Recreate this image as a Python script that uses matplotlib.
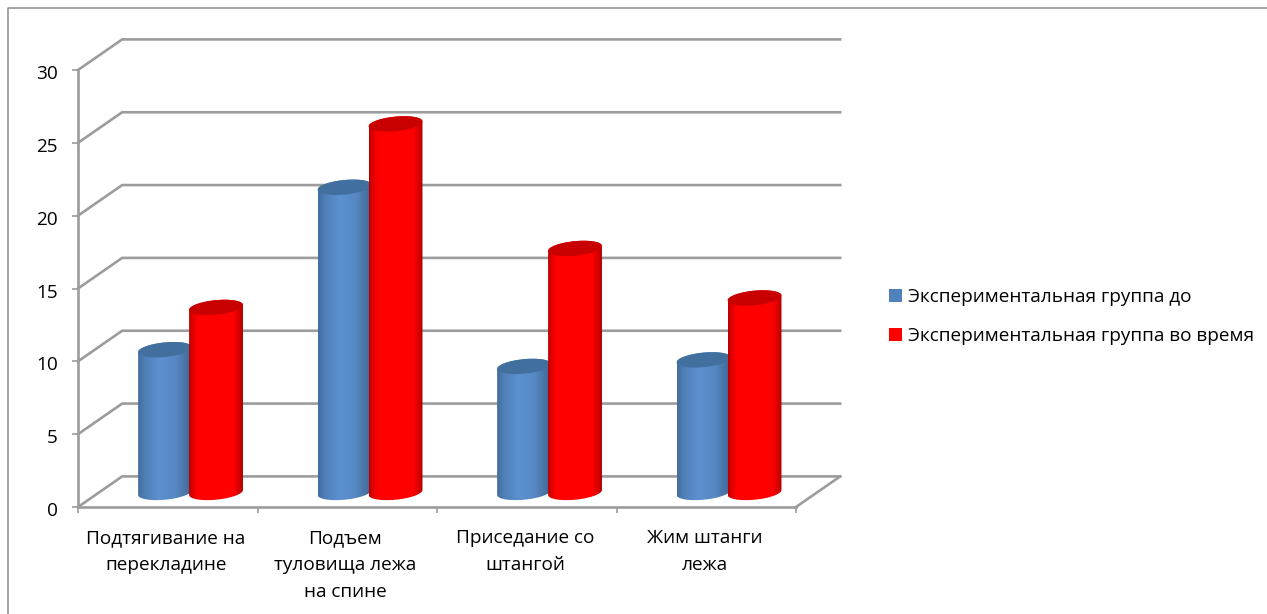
import numpy as np
import matplotlib
matplotlib.use('Agg')
import matplotlib.pyplot as plt
from matplotlib.colors import LinearSegmentedColormap
from matplotlib.lines import Line2D
from matplotlib.patches import Patch, PathPatch, Polygon
from matplotlib.path import Path
from matplotlib.transforms import ScaledTranslation

categories = ['Подтягивание на\nперекладине', 'Подъем\nтуловища лежа\nна спине',
              'Приседание со\nштангой', 'Жим штанги\nлежа']
series_names = ['Экспериментальная группа до', 'Экспериментальная группа во время']
before = [9.8, 20.95, 8.65, 9.1]
during = [12.7, 25.3, 16.75, 13.35]
y_ticks = [0, 5, 10, 15, 20, 25, 30]

W, H = 1267, 614
GREY = '#9C9C9C'
FONT_SIZE = 13.7
plt.rcParams['font.family'] = ['Open Sans', 'DejaVu Sans']
plt.rcParams['font.size'] = FONT_SIZE

fig = plt.figure(figsize=(W / 100, H / 100), dpi=100)
ax = fig.add_axes([78 / W, 1 - 507 / H, 718 / W, 437 / H])

# offset of the back wall from the front plane
depth_x = 0.246
depth_y = 2.1

# walls and floor
for v in y_ticks:
    ax.plot([0, depth_x, 4 + depth_x], [v, v + depth_y, v + depth_y],
            color=GREY, lw=1.9, clip_on=False, zorder=1, solid_joinstyle='miter')
ax.plot([4, 4 + depth_x], [0, depth_y], color=GREY, lw=1.9, clip_on=False, zorder=1)


def ellipse(cx, cy, t):
    # sheared ellipse for the cylinder ends
    a, b, s = 0.15, 0.5, 0.17
    return cx + a * np.cos(t), cy + b * np.sin(t) + s * np.cos(t)


def cylinder(cx, value, shades, top_color, z):
    base = 1.0
    top = base + value
    bx, by = ellipse(cx, base, np.linspace(np.pi, 2 * np.pi, 60))
    tx, ty = ellipse(cx, top, np.linspace(0, np.pi, 60))
    body = Path(np.column_stack([np.r_[bx, tx], np.r_[by, ty]]))

    cmap = LinearSegmentedColormap.from_list('side', shades)
    im = ax.imshow(np.linspace(0, 1, 128)[None, :], cmap=cmap, aspect='auto',
                   extent=[cx - 0.15, cx + 0.15, 0, top + 1], zorder=z)
    im.set_clip_path(PathPatch(body, transform=ax.transData))

    ex, ey = ellipse(cx, top, np.linspace(0, 2 * np.pi, 100))
    ax.add_patch(Polygon(np.column_stack([ex, ey]), closed=True, fc=top_color,
                         ec='none', zorder=z + 0.1))


blue_side = [(0, '#416D9E'), (0.12, '#4F7FB6'), (0.4, '#5C90D0'), (0.7, '#5788C4'),
             (0.92, '#456F9F'), (1, '#3D6490')]
red_side = [(0, '#B40000'), (0.05, '#DC0000'), (0.16, '#FF0000'), (0.82, '#FF0000'),
            (0.95, '#D00000'), (1, '#A80000')]

for i in range(len(categories)):
    cylinder(i + 0.485, before[i], blue_side, '#41709F', 3)
    cylinder(i + 0.769, during[i], red_side, '#C80000', 4)

ax.set_xlim(0, 4)
ax.set_ylim(0, 30)
ax.patch.set_visible(False)
for side in ['top', 'right']:
    ax.spines[side].set_visible(False)
for side in ['left', 'bottom']:
    ax.spines[side].set_color(GREY)
    ax.spines[side].set_linewidth(1.9)
    ax.spines[side].set_zorder(2)

ax.set_yticks(y_ticks)
ax.set_xticks(range(5))
ax.set_xticklabels([])
ax.tick_params(axis='both', which='major', length=4.5, width=1.2, color=GREY,
               labelsize=FONT_SIZE, labelcolor='black')
ax.tick_params(axis='y', which='major', pad=10)
ax.set_xticks(np.arange(4) + 0.49, categories, minor=True)
ax.tick_params(axis='x', which='minor', length=0, pad=16, labelsize=FONT_SIZE)
for label in ax.get_xticklabels(minor=True):
    label.set_linespacing(1.64)
# numbers sit slightly under their ticks
nudge = ScaledTranslation(0, -1.5 / 72, fig.dpi_scale_trans)
for label in ax.get_yticklabels():
    label.set_transform(label.get_transform() + nudge)

# outer frame, open on the right and at the bottom
fig.add_artist(Line2D([8 / W, 8 / W, 1], [0, 1 - 8 / H, 1 - 8 / H], color='#8C8C8C', lw=1.1))

handles = [Patch(fc='#4F81BD', ec='none'), Patch(fc='#FF0000', ec='none')]
fig.legend(handles, series_names, loc='upper left', frameon=False,
           bbox_to_anchor=(889 / W, 1 - 288 / H), borderpad=0, borderaxespad=0,
           handlelength=0.68, handleheight=0.68, handletextpad=0.3, labelspacing=1.12,
           fontsize=FONT_SIZE)

fig.savefig('out.png', dpi=100)
